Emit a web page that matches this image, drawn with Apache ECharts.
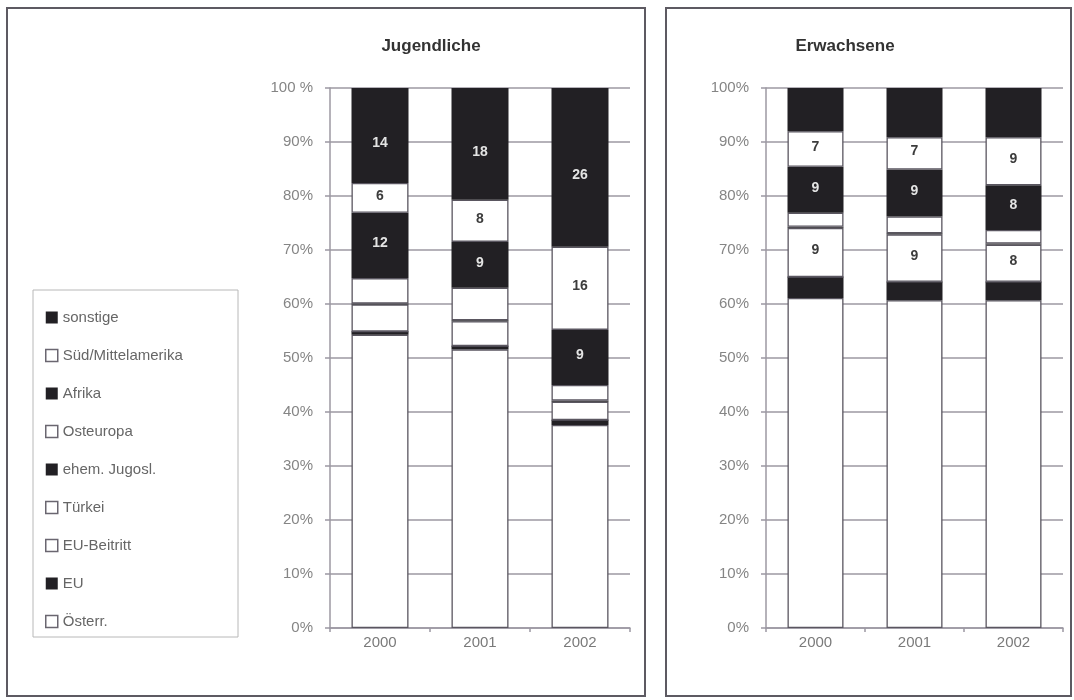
<!DOCTYPE html>
<html>
<head>
<meta charset="utf-8">
<script src="https://cdn.jsdelivr.net/npm/echarts@6/dist/echarts.min.js"></script>
<style>
html,body{margin:0;padding:0;background:#fff;}
#chart{width:1074px;height:700px;}
</style>
</head>
<body>
<div id="chart"></div>
<script>
// ---- data ----
const years = ['2000', '2001', '2002'];
// stacking order bottom -> top
const seriesNames = ['Österr.', 'EU', 'EU-Beitritt', 'Türkei', 'ehem. Jugosl.', 'Osteuropa', 'Afrika', 'Süd/Mittelamerika', 'sonstige'];
const seriesDark = [false, true, false, false, true, false, true, false, true];

const yTicksLeft = ['0%', '10%', '20%', '30%', '40%', '50%', '60%', '70%', '80%', '90%', '100 %'];
const yTicksRight = ['0%', '10%', '20%', '30%', '40%', '50%', '60%', '70%', '80%', '90%', '100%'];

// Jugendliche (percent of bar)
const jugOesterr   = [54.3, 51.6, 37.6];
const jugEU        = [0.6, 0.6, 0.9];
const jugEUBeitr   = [0, 0, 0];
const jugTuerkei   = [5.0, 4.6, 3.4];
const jugJugosl    = [0.2, 0.2, 0.2];
const jugOsteuropa = [4.7, 6.0, 2.9];
const jugAfrika    = [12.1, 8.5, 10.2];
const jugSued      = [5.5, 7.8, 15.4];
const jugSonstige  = [17.6, 20.7, 29.4];

// Erwachsene
const erwOesterr   = [61.1, 60.7, 60.7];
const erwEU        = [3.9, 3.4, 3.4];
const erwEUBeitr   = [0, 0, 0];
const erwTuerkei   = [9.1, 8.8, 6.9];
const erwJugosl    = [0.2, 0.2, 0.2];
const erwOsteuropa = [2.6, 3.1, 2.5];
const erwAfrika    = [8.5, 8.7, 8.3];
const erwSued      = [6.6, 6.0, 8.9];
const erwSonstige  = [8.0, 9.1, 9.1];

// printed segment labels
const jugLabelSonstige = [14, 18, 26];
const jugLabelSued     = [6, 8, 16];
const jugLabelAfrika   = [12, 9, 9];
const erwLabelSued     = [7, 7, 9];
const erwLabelAfrika   = [9, 9, 8];
const erwLabelTuerkei  = [9, 9, 8];

// ---- build ----
const jugData = [jugOesterr, jugEU, jugEUBeitr, jugTuerkei, jugJugosl, jugOsteuropa, jugAfrika, jugSued, jugSonstige];
const erwData = [erwOesterr, erwEU, erwEUBeitr, erwTuerkei, erwJugosl, erwOsteuropa, erwAfrika, erwSued, erwSonstige];
const jugLabels = {8: jugLabelSonstige, 7: jugLabelSued, 6: jugLabelAfrika};
const erwLabels = {7: erwLabelSued, 6: erwLabelAfrika, 3: erwLabelTuerkei};

const DARK = '#222024';
const FONT = 'Liberation Sans, Arial, sans-serif';
const GRID = '#9c98a2';

function makeSeries(dataArr, labelsMap, gridIdx, barW) {
  return dataArr.map((vals, i) => {
    const dark = seriesDark[i];
    const labs = labelsMap[i];
    const isTop = i === dataArr.length - 1;
    return {
      name: seriesNames[i],
      type: 'bar',
      stack: 'g' + gridIdx,
      xAxisIndex: gridIdx,
      yAxisIndex: gridIdx,
      barWidth: barW,
      data: vals,
      itemStyle: dark
        ? {color: DARK, borderColor: DARK, borderWidth: 0}
        : {color: '#ffffff', borderColor: '#5a5660', borderWidth: 1.3},
      label: {
        show: !!labs,
        position: 'inside',
        formatter: p => (labs && labs[p.dataIndex] != null) ? String(labs[p.dataIndex]) : '',
        color: dark ? '#e4e4e4' : '#3c3c3c',
        fontSize: 14,
        fontWeight: 'bold',
        fontFamily: FONT,
        offset: isTop ? [0, 8] : [0, -2]
      },
      emphasis: {disabled: true},
      animation: false
    };
  });
}

function yAxis(gridIdx, ticks) {
  return {
    gridIndex: gridIdx, type: 'value', min: 0, max: 100, interval: 10,
    axisLine: {show: true, lineStyle: {color: GRID, width: 1.5}},
    axisTick: {show: true, length: 5, lineStyle: {color: GRID, width: 1.5}},
    axisLabel: {formatter: v => ticks[Math.round(v / 10)], color: '#858585', fontSize: 15, fontFamily: FONT, margin: 17},
    splitLine: {show: true, lineStyle: {color: GRID, width: 1.5}}
  };
}
function xAxis(gridIdx) {
  return {
    gridIndex: gridIdx, type: 'category', data: years,
    axisLine: {show: true, lineStyle: {color: GRID, width: 1.5}},
    axisTick: {show: true, length: 4, lineStyle: {color: GRID, width: 1.5}},
    axisLabel: {color: '#7a7a7a', fontSize: 15, fontFamily: FONT, margin: 7}
  };
}

const legendOrder = seriesNames.slice().reverse();
const legendData = legendOrder.map(n => {
  const dark = seriesDark[seriesNames.indexOf(n)];
  return {
    name: n, icon: 'rect',
    itemStyle: dark ? {color: DARK, borderWidth: 0} : {color: '#fff', borderColor: '#6a6670', borderWidth: 1.5}
  };
});

const option = {
  backgroundColor: '#ffffff',
  animation: false,
  graphic: [
    {type: 'rect', shape: {x: 7, y: 8, width: 638, height: 688}, style: {fill: 'none', stroke: '#5d5a62', lineWidth: 2}, z: 0},
    {type: 'rect', shape: {x: 666, y: 8, width: 405, height: 688}, style: {fill: 'none', stroke: '#5d5a62', lineWidth: 2}, z: 0},
    {type: 'rect', shape: {x: 33, y: 290, width: 205, height: 347}, style: {fill: 'none', stroke: '#b8b8b8', lineWidth: 1}, z: 0},
    {type: 'text', x: 431, y: 46, style: {text: 'Jugendliche', fill: '#333', font: 'bold 17px ' + FONT, textAlign: 'center', textVerticalAlign: 'middle'}},
    {type: 'text', x: 845, y: 46, style: {text: 'Erwachsene', fill: '#333', font: 'bold 17px ' + FONT, textAlign: 'center', textVerticalAlign: 'middle'}}
  ],
  legend: {
    orient: 'vertical', left: 40, top: 305,
    itemWidth: 12, itemHeight: 12, itemGap: 23,
    textStyle: {fontSize: 15, color: '#666', fontFamily: FONT, lineHeight: 15},
    data: legendData,
    selectedMode: false
  },
  grid: [
    {left: 330, right: 1074 - 630, top: 88, bottom: 700 - 628},
    {left: 766, right: 1074 - 1063, top: 88, bottom: 700 - 628}
  ],
  xAxis: [xAxis(0), xAxis(1)],
  yAxis: [yAxis(0, yTicksLeft), yAxis(1, yTicksRight)],
  series: makeSeries(jugData, jugLabels, 0, 57).concat(makeSeries(erwData, erwLabels, 1, 56))
};

const chart = echarts.init(document.getElementById('chart'), null, {renderer: 'canvas'});
chart.setOption(option);
</script>
</body>
</html>
